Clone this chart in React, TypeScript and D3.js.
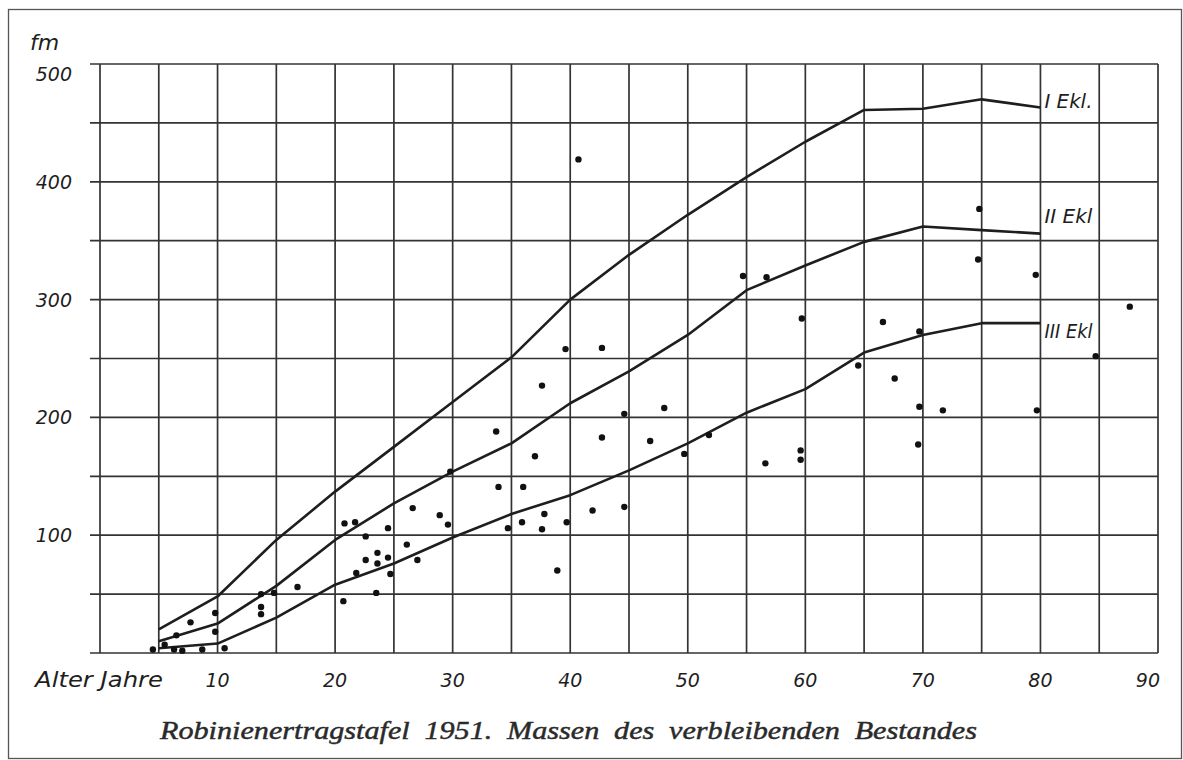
import * as d3 from "d3";

// Alter (Jahre) der Stützpunkte der Ertragsklassen-Kurven
const ages = [5, 10, 15, 20, 25, 30, 35, 40, 45, 50, 55, 60, 65, 70, 75, 80];
const ekl1 = [20, 48, 96, 137, 175, 213, 251, 300, 338, 372, 404, 434, 461, 462, 470, 463];
const ekl2 = [10, 25, 57, 96, 127, 154, 178, 212, 239, 270, 308, 329, 349, 362, 359, 356];
const ekl3 = [4, 8, 30, 58, 76, 98, 118, 134, 155, 178, 204, 224, 255, 270, 280, 280];
const eklNames = ["I Ekl.", "II Ekl", "III Ekl"];

// Einzelbestände [Alter, fm]
const stands: [number, number][] = [
  [4.5, 3], [5.5, 7], [6.3, 3], [7, 2], [8.7, 3], [10.6, 4], [6.5, 15],
  [7.7, 26], [9.8, 34], [9.8, 18],
  [13.7, 39], [13.7, 33], [13.7, 50], [14.8, 51], [16.8, 56],
  [20.7, 44], [20.8, 110], [21.7, 111], [22.6, 99], [24.5, 106],
  [22.6, 79], [23.6, 85], [23.6, 76], [24.5, 81], [24.7, 67], [21.8, 68], [23.5, 51],
  [26.6, 123], [28.9, 117], [29.6, 109], [26.1, 92], [27, 79],
  [29.8, 154], [33.9, 141], [36, 141], [33.7, 188],
  [34.7, 106], [35.9, 111], [37.8, 118], [37.6, 105], [39.7, 111], [38.9, 70], [41.9, 121], [44.6, 124],
  [37, 167], [37.6, 227], [39.6, 258], [42.7, 259], [40.7, 419],
  [42.7, 183], [44.6, 203], [46.8, 180], [48, 208], [49.7, 169], [51.8, 185],
  [54.7, 320], [56.7, 319], [56.6, 161], [59.6, 172], [59.6, 164], [59.7, 284],
  [64.5, 244], [66.6, 281], [67.6, 233], [69.7, 273], [69.7, 209], [71.7, 206], [69.6, 177],
  [74.7, 334], [74.8, 377], [79.6, 321], [79.7, 206], [84.7, 252], [87.6, 294],
];

const xTicks = [10, 20, 30, 40, 50, 60, 70, 80, 90];
const yTicks = [100, 200, 300, 400, 500];

const W = 1183;
const H = 760;
const ink = "#1e1e1e";
const gridInk = "#333";
const techFont = "'DejaVu Sans', sans-serif";

export default function App() {
  const x = d3.scaleLinear().domain([0, 90]).range([100, 1158]);
  const y = d3.scaleLinear().domain([0, 500]).range([653, 64]);

  const line = d3
    .line<number>()
    .x((_, i) => x(ages[i]))
    .y((d) => y(d));

  const series = [ekl1, ekl2, ekl3];
  const labelDy = [0, -11, 15]; // Beschriftung relativ zum Kurvenende

  return (
    <div style={{ position: "absolute", left: 0, top: 0 }}>
      <svg width={W} height={H} style={{ display: "block", background: "#fff" }}>
        <rect x={8.5} y={9.5} width={W - 10} height={H - 11} fill="none" stroke="#555" strokeWidth={1.3} />

        {/* Gitter */}
        {d3.range(0, 95, 5).map((v) => (
          <line key={"v" + v} x1={x(v)} x2={x(v)} y1={y(500)} y2={y(0)} stroke={gridInk} strokeWidth={1.7} />
        ))}
        {d3.range(0, 550, 50).map((v) => (
          <line key={"h" + v} x1={x(0) - 10} x2={x(90)} y1={y(v)} y2={y(v)} stroke={gridInk} strokeWidth={1.7} />
        ))}

        {/* Kurven */}
        {series.map((s, i) => (
          <path key={"s" + i} d={line(s) ?? ""} fill="none" stroke={ink} strokeWidth={2.6} strokeLinejoin="round" />
        ))}
        {series.map((s, i) => (
          <text
            key={"l" + i}
            x={x(ages[ages.length - 1]) + 4}
            y={y(s[s.length - 1]) + labelDy[i]}
            fontFamily={techFont}
            fontStyle="italic"
            fontSize={20}
            textLength={48}
            lengthAdjust="spacingAndGlyphs"
            fill={ink}
          >
            {eklNames[i]}
          </text>
        ))}

        {/* Bestände */}
        {stands.map(([a, v], i) => (
          <circle key={"p" + i} cx={x(a)} cy={y(v)} r={3.2} fill="#111" />
        ))}

        {/* Achsenbeschriftung */}
        {yTicks.map((v, i) => (
          <text
            key={"yt" + v}
            x={72}
            y={i === yTicks.length - 1 ? y(v) + 17 : y(v) + 7}
            textAnchor="end"
            fontFamily={techFont}
            fontStyle="italic"
            fontSize={19}
            fill={ink}
          >
            {v}
          </text>
        ))}
        <text x={30} y={50} fontFamily={techFont} fontStyle="italic" fontSize={22} fill={ink}>
          fm
        </text>
        {xTicks.map((v, i) => (
          <text
            key={"xt" + v}
            x={i === xTicks.length - 1 ? x(v) + 2 : x(v)}
            y={687}
            textAnchor={i === xTicks.length - 1 ? "end" : "middle"}
            fontFamily={techFont}
            fontStyle="italic"
            fontSize={19}
            fill={ink}
          >
            {v}
          </text>
        ))}
        <text
          x={35}
          y={687}
          fontFamily={techFont}
          fontStyle="italic"
          fontSize={22}
          textLength={128}
          lengthAdjust="spacingAndGlyphs"
          fill={ink}
        >
          Alter Jahre
        </text>

        <text
          x={160}
          y={739}
          fontFamily="'Liberation Serif', serif"
          fontStyle="italic"
          fontSize={25}
          textLength={817}
          lengthAdjust="spacingAndGlyphs"
          fill="#2a2a2a"
          stroke="#2a2a2a"
          strokeWidth={0.45}
          style={{ wordSpacing: "6px" }}
        >
          Robinienertragstafel 1951. Massen des verbleibenden Bestandes
        </text>
      </svg>
    </div>
  );
}
